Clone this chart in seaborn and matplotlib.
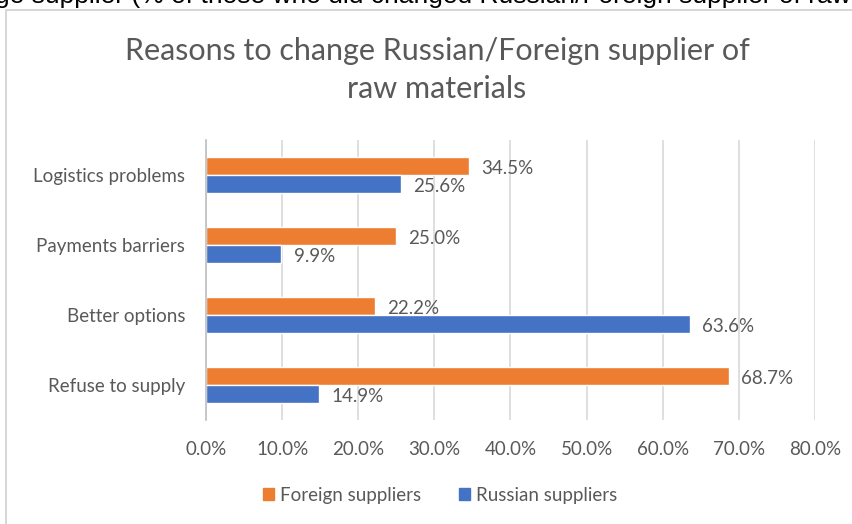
import matplotlib
matplotlib.use("Agg")
import matplotlib.pyplot as plt
import matplotlib.patches as mpatches
import seaborn as sns
import pandas as pd
from matplotlib.ticker import FuncFormatter

reasons = ["Logistics problems", "Payments barriers", "Better options", "Refuse to supply"]
foreign = [34.5, 25.0, 22.2, 68.7]
russian = [25.6, 9.9, 63.6, 14.9]
series = ["Foreign suppliers", "Russian suppliers"]
colors = ["#ED7D31", "#4472C4"]
ticks = [0, 10, 20, 30, 40, 50, 60, 70, 80]

df = pd.DataFrame({
    "reason": reasons * 2,
    "value": foreign + russian,
    "series": [series[0]] * len(reasons) + [series[1]] * len(reasons),
})

sns.set_theme(style="white")
plt.rcParams["font.family"] = ["Lato", "DejaVu Sans"]
txt = "#595959"

fig = plt.figure(figsize=(8.53, 5.24), dpi=100)
ax = fig.add_axes([206 / 853, 1 - 420 / 524, (815 - 206) / 853, 280 / 524])

sns.barplot(data=df, y="reason", x="value", hue="series", order=reasons,
            hue_order=series, palette=colors, orient="h", width=0.52,
            saturation=1, ax=ax, legend=False)

# data labels
for cont in ax.containers:
    for bar in cont:
        w = bar.get_width()
        ax.text(w + 1.6, bar.get_y() + bar.get_height() / 2 + 0.03, f"{w:.1f}%",
                va="center", ha="left", fontsize=13.5, color=txt)

ax.set_xlim(0, 80)
ax.set_xticks(ticks)
ax.xaxis.set_major_formatter(FuncFormatter(lambda v, p: f"{v:.1f}%"))
ax.grid(axis="x", color="#d9d9d9", linewidth=1.2)
ax.set_axisbelow(True)
for s in ["top", "right", "bottom"]:
    ax.spines[s].set_visible(False)
ax.spines["left"].set_color("#bfbfbf")
ax.spines["left"].set_linewidth(1.2)
ax.tick_params(axis="both", length=0, labelsize=13.5, labelcolor=txt)
ax.tick_params(axis="x", pad=15)
ax.tick_params(axis="y", pad=15)
ax.set_xlabel("")
ax.set_ylabel("")

fig.text(437 / 853, 1 - 70 / 524, "Reasons to change Russian/Foreign supplier of\nraw materials",
         ha="center", va="center", fontsize=22, color=txt, linespacing=1.4)

handles = [mpatches.Patch(color=c, label=l) for c, l in zip(colors, series)]
fig.legend(handles=handles, loc="center", bbox_to_anchor=(440 / 853, 1 - 495 / 524),
           ncol=2, frameon=False, fontsize=13.5, handlelength=0.6, handleheight=0.6,
           handletextpad=0.3, columnspacing=2.0, labelcolor=txt)

# chart area border and cut-off text above it
fig.patches.append(mpatches.Rectangle((6 / 853, -0.05), 1.2, 1 - 10 / 524 + 0.05,
                                      transform=fig.transFigure, fill=False,
                                      edgecolor="#d0d0d0", linewidth=1.2))
fig.text(-0.006, 1 - 3 / 524,
         "ge supplier (% of those who did changed Russian/Foreign supplier of raw materials)",
         ha="left", va="baseline", fontsize=19, color="#000000",
         family=["Liberation Sans", "DejaVu Sans"])

fig.savefig("out.png", dpi=100)
